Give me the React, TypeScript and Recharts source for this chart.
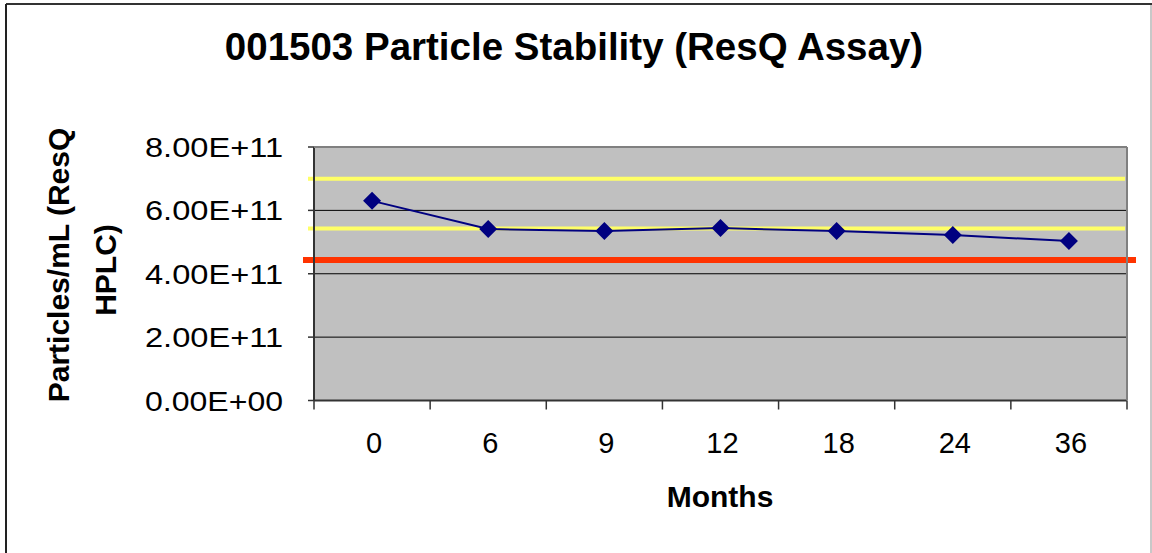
import React from 'react';
import { LineChart, Line, XAxis, YAxis, CartesianGrid, ReferenceLine } from 'recharts';

const months = ['0', '6', '9', '12', '18', '24', '36'];
const particles = [6.3e11, 5.41e11, 5.35e11, 5.44e11, 5.35e11, 5.22e11, 5.03e11];
const yTicks = [0, 2e11, 4e11, 6e11, 8e11];
const yellowLimits = [7.0e11, 5.43e11];
const redLimit = 4.43e11;

const data = months.map((m, i) => ({ month: m, value: particles[i] }));

const FONT = '"Liberation Sans", Arial, sans-serif';
const W = 1152;
const H = 553;
const PLOT = { left: 314, top: 147, right: 1127, bottom: 400.5 };
const BAND = (PLOT.right - PLOT.left) / months.length;

function fmtSci(v: number) {
  if (v === 0) return '0.00E+00';
  const exp = Math.floor(Math.log10(v));
  const mant = v / Math.pow(10, exp);
  return `${mant.toFixed(2)}E+${String(exp).padStart(2, '0')}`;
}

const YTick = ({ y, payload }: any) => (
  <text x={283} y={y + 10} textAnchor="end" fontSize={28} fontFamily={FONT} fill="#000"
    textLength={138} lengthAdjust="spacingAndGlyphs">
    {fmtSci(payload.value)}
  </text>
);

const XTick = ({ x, payload, index }: any) => (
  <g>
    <line x1={x - BAND / 2} x2={x - BAND / 2} y1={PLOT.bottom} y2={PLOT.bottom + 9} stroke="#333" strokeWidth={1.5} />
    {index === months.length - 1 && (
      <line x1={x + BAND / 2} x2={x + BAND / 2} y1={PLOT.bottom} y2={PLOT.bottom + 9} stroke="#333" strokeWidth={1.5} />
    )}
    <text x={x + 2} y={453} textAnchor="middle" fontSize={29} fontFamily={FONT} fill="#000">
      {payload.value}
    </text>
  </g>
);

const Diamond = ({ cx, cy }: any) => {
  if (cx == null || cy == null) return null;
  const r = 9;
  return <polygon points={`${cx},${cy - r} ${cx + r},${cy} ${cx},${cy + r} ${cx - r},${cy}`} fill="#000080" />;
};

const limitShape = (color: string, width: number, extL: number, extR: number) => (props: any) => {
  const { x1, x2, y1 } = props;
  return <line x1={x1 - extL} x2={x2 + extR} y1={y1} y2={y1} stroke={color} strokeWidth={width} />;
};

export default function App() {
  return (
    <div style={{ position: 'absolute', left: 0, top: 0, width: W, height: H, background: '#fff' }}>
      <LineChart
        width={W}
        height={H}
        data={data}
        margin={{ top: PLOT.top, right: W - PLOT.right, bottom: 112.5, left: 0 }}
      >
        <CartesianGrid fill="#C0C0C0" vertical={false} stroke="#000" strokeWidth={1} />
        <XAxis
          dataKey="month"
          height={40}
          tick={<XTick />}
          tickLine={false}
          axisLine={{ stroke: '#333', strokeWidth: 2 }}
          interval={0}
          padding={{ left: BAND / 2, right: BAND / 2 }}
        />
        <YAxis
          width={PLOT.left}
          domain={[0, 8e11]}
          ticks={yTicks}
          tick={<YTick />}
          tickSize={6}
          tickLine={{ stroke: '#333', strokeWidth: 1.5 }}
          axisLine={{ stroke: '#333', strokeWidth: 2 }}
        />
        {yellowLimits.map((v) => (
          <ReferenceLine key={v} y={v} shape={limitShape('#FFFF66', 4, 6, -2)} />
        ))}
        <ReferenceLine y={redLimit} shape={limitShape('#FF3300', 6, 11, 9)} />
        <Line
          type="linear"
          dataKey="value"
          stroke="#000080"
          strokeWidth={2}
          dot={<Diamond />}
          activeDot={false}
          isAnimationActive={false}
        />
      </LineChart>
      <svg width={W} height={H} style={{ position: 'absolute', left: 0, top: 0, pointerEvents: 'none' }}>
        <line x1={PLOT.left} x2={PLOT.right} y1={PLOT.top} y2={PLOT.top} stroke="#808080" strokeWidth={2} />
        <line x1={PLOT.right} x2={PLOT.right} y1={PLOT.top} y2={PLOT.bottom} stroke="#808080" strokeWidth={2} />
        <line x1={6} x2={W} y1={4} y2={4} stroke="#333" strokeWidth={2} />
        <line x1={6} x2={6} y1={4} y2={H} stroke="#222" strokeWidth={2} />
        <line x1={W - 1} x2={W - 1} y1={5} y2={H} stroke="#c8c8c8" strokeWidth={2} />
        <text x={574} y={60} textAnchor="middle" fontSize={38.5} fontWeight="bold" fontFamily={FONT} fill="#000">
          001503 Particle Stability (ResQ Assay)
        </text>
        <text x={58} y={265} transform="rotate(-90 58 265)" textAnchor="middle" dominantBaseline="central"
          fontSize={30} fontWeight="bold" fontFamily={FONT} fill="#000">
          Particles/mL (ResQ
        </text>
        <text x={105} y={270} transform="rotate(-90 105 270)" textAnchor="middle" dominantBaseline="central"
          fontSize={30} fontWeight="bold" fontFamily={FONT} fill="#000">
          HPLC)
        </text>
        <text x={720} y={507} textAnchor="middle" fontSize={30} fontWeight="bold" fontFamily={FONT} fill="#000">
          Months
        </text>
      </svg>
    </div>
  );
}
